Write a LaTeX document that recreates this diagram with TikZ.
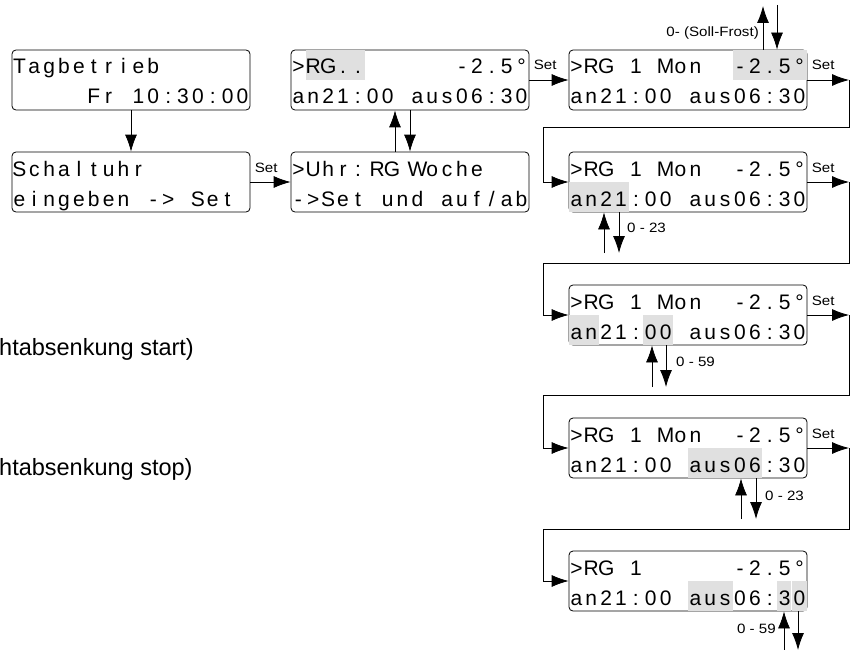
\documentclass[tikz,border=0pt]{standalone}
\usepackage{fontspec}
\setmainfont{Liberation Sans}
\newfontfamily\lblfont[FakeStretch=1.12]{Liberation Sans}
\usepackage{xcolor}
\usetikzlibrary{arrows.meta}
\definecolor{lcdgray}{RGB}{224,224,224}

%% one display cell per character; _ = blank, ! ? = part blank, * = marked, + = marked (narrow)
\newlength\lcdw
\setlength\lcdw{14.875pt}
\newcommand\lcdcell[1]{\makebox[\lcdw][c]{\ifx_#1\else#1\fi}}
\newcommand\lcdmark[2]{\rlap{\color{lcdgray}\rule[-5.6pt]{\dimexpr\lcdw-#1\relax}{29.2pt}}\lcdcell{#2}}
\def\lcdloop#1{%
  \ifx\relax#1\let\lcdnext\relax
  \else\ifx*#1\def\lcdnext{\lcdhl{0pt}}%
  \else\ifx+#1\def\lcdnext{\lcdhl{1pt}}%
  \else\ifx!#1\hspace*{0.3\lcdw}\let\lcdnext\lcdloop
  \else\ifx?#1\hspace*{0.7\lcdw}\let\lcdnext\lcdloop
  \else\lcdcell{#1}\let\lcdnext\lcdloop
  \fi\fi\fi\fi\fi
  \lcdnext}
\def\lcdhl#1#2{\lcdmark{#1}{#2}\lcdloop}
\newcommand\lcdrow[1]{\hbox{\vrule width0pt height24pt depth6pt\lcdloop#1\relax}}
\newcommand\lcd[2]{\vbox{\offinterlineskip\lcdrow{#1}\lcdrow{#2}}}

\begin{document}
\begin{tikzpicture}[x=1pt, y=-1pt,
  lcdbox/.style={draw, line width=0.8pt, rounded corners=4pt, inner sep=0pt,
                 minimum width=238pt, minimum height=60pt,
                 font=\fontsize{21}{25}\selectfont},
  arr/.style={-{Latex[length=17pt,width=12pt]}, line width=0.8pt},
  lbl/.style={font=\lblfont\fontsize{13.5}{16}\selectfont, inner sep=0pt},
  setlbl/.style={lbl, anchor=base west, xshift=4pt, yshift=10pt},
  side/.style={font=\fontsize{23.5}{28}\selectfont, inner sep=0pt, anchor=base west},
]
\useasboundingbox (0,0) rectangle (856,650);

%% Displays
\node[lcdbox] (b1) at (131,80)  {\lcd{Tagbetrieb______}{_____Fr_10:30:00}};
\node[lcdbox] (b2) at (131,182) {\lcd{Schaltuhr_______}{eingeben_->_Set_}};
\node[lcdbox] (b3) at (410,80)  {\lcd{>*R*G*.*.______-2.5°}{an21:00_aus06:30}};
\node[lcdbox] (b4) at (410,182) {\lcd{>Uhr:!RG?Woche___}{->Set_und_auf/ab}};
\node[lcdbox] (b5) at (688,80)  {\lcd{>RG_1_Mon__*-*2*.*5*°}{an21:00_aus06:30}};
\node[lcdbox] (b6) at (688,182) {\lcd{>RG_1_Mon__-2.5°}{*a*n*2*1:00_aus06:30}};
\node[lcdbox] (b7) at (688,315) {\lcd{>RG_1_Mon__-2.5°}{*a*n21:*0*0_aus06:30}};
\node[lcdbox] (b8) at (688,448) {\lcd{>RG_1_Mon__-2.5°}{an21:00_*a*u*s*0*6:30}};
\node[lcdbox] (b9) at (688,581) {\lcd{>RG_1______-2.5°}{an21:00_*a*u*s06:+3*0}};

%% Left part
\draw[arr] (b1.south) -- (b2.north);
\draw[arr] (b2.east) -- (b4.west) node[pos=0, setlbl] (s2) {Set};
\draw[arr] ([xshift=-15pt]b4.north) -- ([xshift=-15pt]b3.south);
\draw[arr] (b3.south) -- (b4.north);
\draw[arr] (b3.east) -- (b5.west) node[pos=0, setlbl] (s3) {Set};

%% Frost limit
\coordinate (fu) at (763,6);
\coordinate (fd) at (777,5);
\draw[arr] (fu |- b5.north) -- (fu);
\draw[arr] (fd) -- (fd |- b5.north);
\node[lbl, anchor=base east] (frost) at (759,37) {0- (Soll-Frost)};

%% Set chain on the right
\coordinate (rx) at (849,0);
\coordinate (lx) at (543,0);
\foreach \a/\b/\y in {b5/b6/127, b6/b7/263, b7/b8/395, b8/b9/529}{
  \draw[arr] (\a.east) -- (\a.east -| rx) node[pos=0, setlbl] (s\a) {Set};
  \coordinate (t\a) at (849,\y);
  \draw[arr] (\a.east -| rx) -- (t\a) -| (\b.west -| lx) -- (\b.west);
}

%% Up/down under the displays
\foreach \a/\u/\d/\e in {b6/604/619/253, b7/652/666/387, b8/741/756/519, b9/784/798/650}{
  \coordinate (u\a) at (\u,\e);
  \coordinate (d\a) at (\d,\e);
  \draw[arr] (u\a) -- (u\a |- \a.south);
  \draw[arr] (d\a |- \a.south) -- (d\a);
}
\node[lbl, anchor=base west] (r6) at (627,232) {0 - 23};
\node[lbl, anchor=base west] (r7) at (676,366) {0 - 59};
\node[lbl, anchor=base west] (r8) at (765,500) {0 - 23};
\node[lbl, anchor=base east] (r9) at (776,633) {0 - 59};

%% Cut text at the left edge
\node[side] (ns) at (-1,355) {htabsenkung start)};
\node[side] (ne) at (-1,475) {htabsenkung stop)};
\end{tikzpicture}
\end{document}
